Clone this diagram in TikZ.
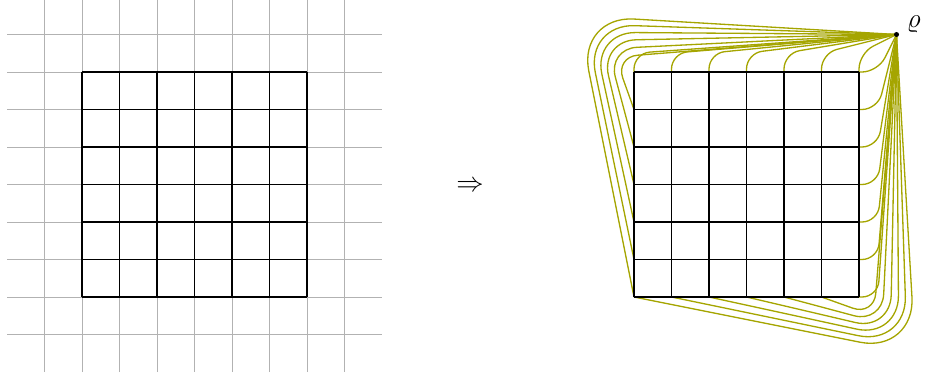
\documentclass[tikz,border=0pt]{standalone}
\definecolor{homot}{RGB}{165,165,0}
\begin{document}
\begin{tikzpicture}[x=1cm,y=1cm,
  faint/.style={black!30, line width=0.55pt},
  cell/.style={black, line width=1.2pt},
  homotopy/.style={homot, line width=1pt, rounded corners=#1},
  homotopy/.default=0.45cm]
\useasboundingbox (-2.1867,-2.1867) rectangle (22.48,7.92);
\foreach \y in {-1,...,7} \draw[faint] (-2,\y) -- (8,\y);
\foreach \x in {-1,...,7} \draw[faint] (\x,-2) -- (\x,7.92);
\draw[cell] (0,0) grid (6,6);
\node (arrow) at (10.35,2.96) {\huge$\Rightarrow$};
\begin{scope}[xshift=14.72cm]
\coordinate (rho) at (7,7);
\foreach \k in {1,...,6} {
  \pgfmathsetmacro\j{6-\k}
  \pgfmathsetmacro\qx{-0.5-0.2*(\k-1)}
  \pgfmathsetmacro\qy{6.4+0.22*(\k-1)}
  \pgfmathsetmacro\rr{0.6+0.18*(\k-1)}
  \draw[homotopy=\rr cm] (0,\j) -- (\qx,\qy) -- (rho);
  \draw[homotopy=\rr cm] (\j,0) -- (\qy,\qx) -- (rho);
}
\foreach \i in {0,...,6} {
  \draw[homotopy=0.42cm] (\i,6) -- (\i,6.5) -- (rho);
  \draw[homotopy=0.42cm] (6,\i) -- (6.5,\i) -- (rho);
}
\draw[cell] (0,0) grid (6,6);
\fill (rho) circle (1.9pt);
\node[font=\huge] (rholabel) at ([shift={(0.46,0.26)}]rho) {$\varrho$};
\end{scope}
\end{tikzpicture}
\end{document}
